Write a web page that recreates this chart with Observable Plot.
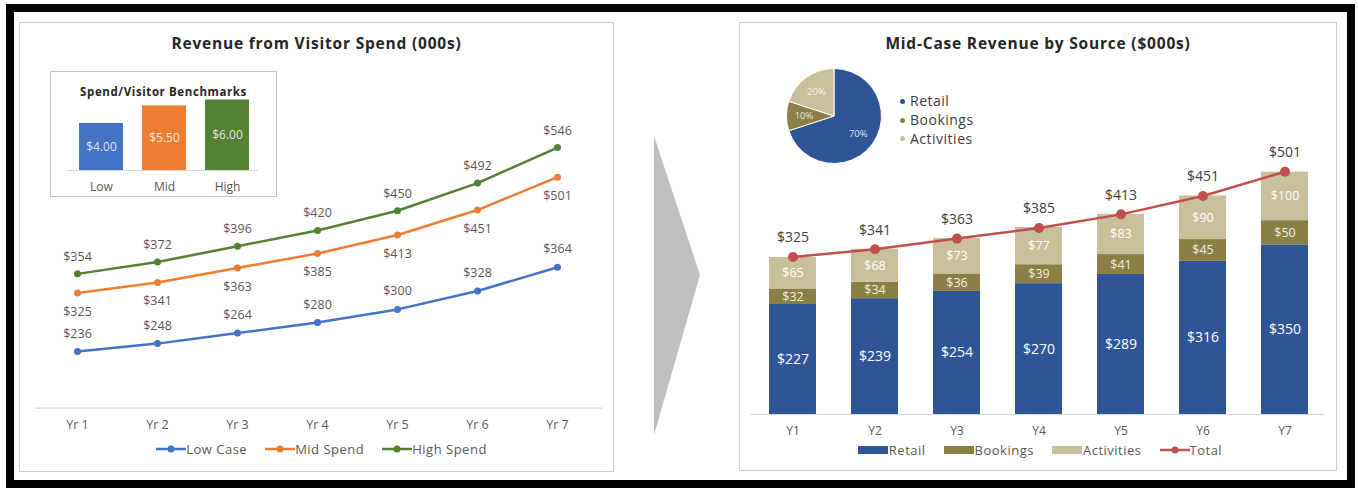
<!DOCTYPE html>
<html><head><meta charset="utf-8">
<script src="https://cdn.jsdelivr.net/npm/d3@7"></script>
<script src="https://cdn.jsdelivr.net/npm/@observablehq/plot@0.6"></script>
<style>
body{margin:0;background:#fff;}
#root{position:relative;width:1358px;height:488px;overflow:hidden;font-family:"Open Sans",sans-serif;background:#fff;}
.abs{position:absolute;}
.frame{left:6px;top:4px;width:1333px;height:468px;border:8px solid #000;}
.panel{box-sizing:border-box;border:1.5px solid #cdcdcd;background:#fff;}
.title{font-weight:700;font-size:15.5px;color:#262626;text-align:center;line-height:20px;letter-spacing:0.8px;}
.legend{display:flex;justify-content:center;align-items:center;font-size:13px;color:#595959;line-height:16px;letter-spacing:0.5px;}
.legend .item{display:flex;align-items:center;margin:0 9px;}
.legend svg{display:block;}
.pielegend{font-size:14px;color:#404040;line-height:18.8px;letter-spacing:0.5px;}
.pielegend .row{display:flex;align-items:center;}
.pielegend .sw{width:5px;height:5px;border-radius:50%;margin-right:5px;}
svg.plot{position:absolute;overflow:visible;}
</style>
</head>
<body>
<div id="root">
  <div class="abs frame"></div>
  <div class="abs panel" style="left:19px;top:22px;width:595px;height:450px;"></div>
  <div class="abs panel" style="left:739px;top:22px;width:598px;height:449px;"></div>
  <svg class="abs" style="left:650px;top:130px;" width="60" height="312"><polygon points="4,6 50,145 4,305" fill="#bfbfbf"/></svg>
  <div class="abs title" style="left:19px;top:33px;width:595px;">Revenue from Visitor Spend (000s)</div>
  <div class="abs title" style="left:739px;top:33px;width:598px;">Mid-Case Revenue by Source ($000s)</div>
  <div class="abs panel" style="left:50px;top:71px;width:227px;height:126px;border-color:#c4c4c4;"></div>
  <div class="abs title" style="left:50px;top:84px;width:227px;font-size:11.5px;line-height:16px;letter-spacing:0.6px;">Spend/Visitor Benchmarks</div>
  <div id="legendL" class="abs legend" style="left:24px;top:441px;width:595px;"></div>
  <div id="legendR" class="abs legend" style="left:741px;top:442px;width:598px;"></div>
  <div id="legendPie" class="abs pielegend" style="left:900px;top:92px;"></div>
</div>
<script>
// ---------- data ----------
const years = ["Yr 1","Yr 2","Yr 3","Yr 4","Yr 5","Yr 6","Yr 7"];
const lowCase   = [236, 248, 264, 280, 300, 328, 364];
const midSpend  = [325, 341, 363, 385, 413, 451, 501];
const highSpend = [354, 372, 396, 420, 450, 492, 546];
const seriesNames  = ["Low Case", "Mid Spend", "High Spend"];
const seriesColors = ["#4472c4", "#ed7d31", "#548235"];

const benchLabels = ["Low", "Mid", "High"];
const benchValues = [4.00, 5.50, 6.00];

const yearsShort = ["Y1","Y2","Y3","Y4","Y5","Y6","Y7"];
const retail     = [227, 239, 254, 270, 289, 316, 350];
const bookings   = [32, 34, 36, 39, 41, 45, 50];
const activities = [65, 68, 73, 77, 83, 90, 100];
const totals     = [325, 341, 363, 385, 413, 451, 501];
const sources      = ["Retail", "Bookings", "Activities"];
const sourceColors = ["#2f5597", "#8a7f44", "#c8c09a"];
const totalColor   = "#c0504d";
const pieShares    = [70, 10, 20];

const root = document.getElementById("root");
const place = (el, left, top) => { el.classList.add("plot"); el.style.left = left + "px"; el.style.top = top + "px"; root.appendChild(el); };
const fmt = v => "$" + v;

// ---------- left line chart ----------
const seriesValues = [lowCase, midSpend, highSpend];
const lineData = [];
seriesNames.forEach((s, i) => years.forEach((y, j) => lineData.push({series: s, year: y, value: seriesValues[i][j]})));
const labelDy = {"Low Case": -18, "Mid Spend": 19, "High Spend": -17};

const leftPlot = Plot.plot({
  width: 595, height: 450,
  marginLeft: 56, marginRight: 55, marginTop: 122.4, marginBottom: 64.4,
  style: {background: "transparent", color: "#595959", fontFamily: "Open Sans", overflow: "visible"},
  x: {type: "point", domain: years, padding: 0, label: null},
  y: {domain: [150, 550], axis: null},
  color: {domain: seriesNames, range: seriesColors},
  marks: [
    Plot.ruleY([150], {stroke: "#d9d9d9", strokeWidth: 1.2, insetLeft: -40, insetRight: -43}),
    Plot.axisX({tickSize: 0, tickPadding: 12, fontSize: 12.5, label: null}),
    Plot.line(lineData, {x: "year", y: "value", z: "series", stroke: "series", strokeWidth: 2.5}),
    Plot.dot(lineData, {x: "year", y: "value", fill: "series", r: 3.5}),
    ...seriesNames.map(s => Plot.text(lineData.filter(d => d.series === s), {
      x: "year", y: "value", text: d => fmt(d.value), dy: labelDy[s], fontSize: 12.5, fill: "#595959"
    }))
  ]
});
place(leftPlot, 19, 22);

// ---------- inset benchmark bars ----------
const benchData = benchLabels.map((l, i) => ({label: l, value: benchValues[i]}));
const insetPlot = Plot.plot({
  width: 227, height: 126,
  marginLeft: 28, marginRight: 28, marginTop: 28.5, marginBottom: 27,
  style: {background: "transparent", color: "#595959", fontFamily: "Open Sans", overflow: "visible"},
  x: {type: "band", domain: benchLabels, paddingInner: 0.307, paddingOuter: 0, label: null},
  y: {domain: [0, 6], axis: null},
  color: {domain: benchLabels, range: seriesColors},
  marks: [
    Plot.barY(benchData, {x: "label", y: "value", fill: "label"}),
    Plot.ruleY([0], {stroke: "#d9d9d9", strokeWidth: 1.2, insetLeft: -11, insetRight: -9}),
    Plot.axisX({tickSize: 0, tickPadding: 12, fontSize: 12, label: null}),
    Plot.text(benchData, {x: "label", y: d => d.value / 2, text: d => "$" + d.value.toFixed(2), fill: "#ffffff", fillOpacity: 0.85, fontSize: 12})
  ]
});
place(insetPlot, 50, 71);

// ---------- right stacked bars + total line ----------
const sourceValues = [retail, bookings, activities];
const segData = [];
yearsShort.forEach((yr, j) => {
  let base = 0;
  sources.forEach((s, k) => {
    const v = sourceValues[k][j];
    segData.push({year: yr, source: s, value: v, mid: base + v / 2});
    base += v;
  });
});
const totalData = yearsShort.map((yr, j) => ({year: yr, total: totals[j]}));
const segFont = {"Retail": 14, "Bookings": 12.5, "Activities": 12.5};
const segFill = {"Retail": "#ffffff", "Bookings": "#f2efe0", "Activities": "#ffffff"};

const rightPlot = Plot.plot({
  width: 598, height: 449,
  marginLeft: 30, marginRight: 29, marginTop: 149.7, marginBottom: 57,
  style: {background: "transparent", color: "#595959", fontFamily: "Open Sans", overflow: "visible"},
  x: {type: "band", domain: yearsShort, paddingInner: 0.427, paddingOuter: 0, label: null},
  y: {domain: [0, 500], axis: null},
  color: {domain: sources, range: sourceColors},
  marks: [
    Plot.barY(segData, {x: "year", y: "value", fill: "source"}),
    Plot.ruleY([0], {stroke: "#d9d9d9", strokeWidth: 1.2, insetLeft: -19, insetRight: -16}),
    Plot.axisX({tickSize: 0, tickPadding: 12, fontSize: 12, label: null}),
    ...sources.map(s => Plot.text(segData.filter(d => d.source === s), {
      x: "year", y: "mid", text: d => fmt(d.value), fill: segFill[s], fontSize: segFont[s]
    })),
    Plot.line(totalData, {x: "year", y: "total", stroke: totalColor, strokeWidth: 2.5}),
    Plot.dot(totalData, {x: "year", y: "total", fill: totalColor, r: 5}),
    Plot.text(totalData, {x: "year", y: "total", text: d => fmt(d.total), dy: -19, fontSize: 14, fill: "#404040"})
  ]
});
place(rightPlot, 739, 22);

// ---------- pie ----------
const pieData = sources.map((s, i) => ({source: s, share: pieShares[i], color: sourceColors[i]}));
const piePlot = Plot.plot({
  width: 96, height: 96, margin: 0,
  style: {background: "transparent", overflow: "visible"},
  x: {axis: null}, y: {axis: null},
  marks: [
    (index, scales, values, dimensions) => {
      const cx = dimensions.width / 2, cy = dimensions.height / 2;
      const r = Math.min(cx, cy) - 0.5;
      const arcs = d3.pie().sort(null).value(d => d.share)(pieData);
      const arc = d3.arc().innerRadius(0).outerRadius(r);
      const labelArc = d3.arc().innerRadius(30).outerRadius(30);
      const g = d3.create("svg:g").attr("transform", `translate(${cx},${cy})`);
      g.selectAll("path").data(arcs).join("path")
        .attr("d", arc).attr("fill", d => d.data.color).attr("stroke", "#fff").attr("stroke-width", 1);
      g.selectAll("text").data(arcs).join("text")
        .attr("transform", d => `translate(${labelArc.centroid(d)})`)
        .attr("text-anchor", "middle").attr("dy", "0.35em")
        .attr("font-size", 9.5).attr("font-family", "Open Sans")
        .attr("fill", "#ffffff").attr("fill-opacity", 0.85)
        .text(d => d.data.share + "%");
      return g.node();
    }
  ]
});
place(piePlot, 785.5, 68);

// ---------- legends ----------
const lineSwatch = c => `<svg width="30" height="10"><line x1="0" x2="30" y1="5" y2="5" stroke="${c}" stroke-width="2.5"/><circle cx="15" cy="5" r="3.5" fill="${c}"/></svg>`;
const rectSwatch = c => `<svg width="30" height="10"><rect x="0" y="1" width="30" height="8" fill="${c}"/></svg>`;
document.getElementById("legendL").innerHTML = seriesNames.map((s, i) =>
  `<div class="item">${lineSwatch(seriesColors[i])}<span>${s}</span></div>`).join("");
document.getElementById("legendR").innerHTML = sources.map((s, i) =>
  `<div class="item">${rectSwatch(sourceColors[i])}<span style="margin-left:1px">${s}</span></div>`).join("")
  + `<div class="item">${lineSwatch(totalColor)}<span>Total</span></div>`;
document.getElementById("legendPie").innerHTML = sources.map((s, i) =>
  `<div class="row"><div class="sw" style="background:${sourceColors[i]}"></div><span>${s}</span></div>`).join("");
</script>
</body></html>
